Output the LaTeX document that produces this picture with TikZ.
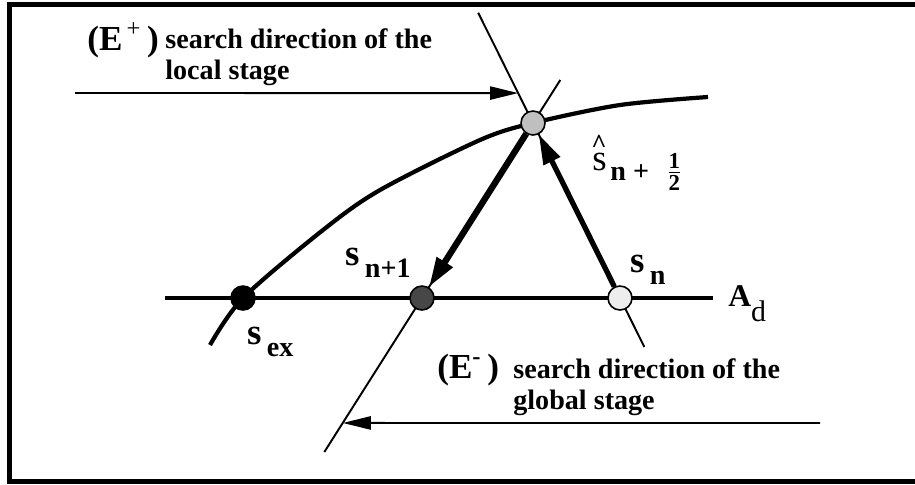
\documentclass[tikz,border=0pt]{standalone}
\usepackage{fontspec}
\setmainfont{Liberation Serif}
\usetikzlibrary{arrows.meta,calc}

\tikzset{
  pt/.style={circle,draw=black,line width=0.9pt,minimum size=0.48cm,inner sep=0pt},
  thinline/.style={line width=1.1pt},
  bigline/.style={line width=2.4pt},
  bigarrow/.style={line width=3.6pt,-{Triangle[length=17pt,width=10pt]}},
  leadarrow/.style={line width=1.1pt,-{Triangle[length=16pt,width=7.5pt]}},
  lab/.style={inner sep=0pt,anchor=base west,font=\bfseries},
  txt/.style={lab,align=left,font=\bfseries\fontsize{16}{17.5}\selectfont},
  big/.style={lab,font=\bfseries\fontsize{20}{22}\selectfont}
}
% main letter with a lowered subscript
\newcommand{\slabel}[2]{{\fontsize{21}{22}\selectfont #1}\hspace{3pt}%
  \raisebox{-7pt}{\fontsize{16}{18}\selectfont #2}}

\begin{document}
\begin{tikzpicture}[x=0.02cm,y=-0.02cm]
  \useasboundingbox (0,0) rectangle (915,484);
  % frame
  \draw[line width=2.8pt] (9.5,4.5) rectangle (922,481.5);

  % positions of the points
  \coordinate (psex) at (243,298);
  \coordinate (pnext) at (422,298);
  \coordinate (pn) at (620,298);
  \coordinate (phat) at (533,123);
  \coordinate (adl) at (165,298);
  \coordinate (adr) at (713,298);

  % A_d, the two directions and the curve
  \draw[bigline] (adl) -- (adr);
  \draw[thinline] ($(pn)!-0.28!(phat)$) -- ($(pn)!1.63!(phat)$);
  \draw[thinline] ($(pnext)!-0.88!(phat)$) -- ($(pnext)!1.246!(phat)$);
  \draw[bigline] plot[smooth] coordinates {(210,345) (psex) (323,230)
    (380,190) (480,140) (phat) (620,105) (708,97)};

  % the points
  \node[pt,fill=black] (sex) at (psex) {};
  \node[pt,fill=black!72] (snext) at (pnext) {};
  \node[pt,fill=black!25] (shat) at (phat) {};
  \node[pt,fill=black!7] (sn) at (pn) {};

  % steps
  \draw[bigarrow,line width=3pt] (sn) -- (shat);
  \draw[bigarrow] (shat) -- (snext);

  % pointers to the directions
  \coordinate (lstart) at (75,93);
  \coordinate (ltip) at ($(pn)!1.171!(phat)$);
  \coordinate (gstart) at (820,423);
  \coordinate (gtip) at ($(pnext)!-0.714!(phat)$);
  \draw[leadarrow] (lstart) -- (ltip);
  \draw[leadarrow] (gstart) -- (gtip);

  % texts
  \node[big] (eplus) at (87,50) {(E\textsuperscript{\mdseries\,+}\,)};
  \node[txt] (localtxt) at (165,79) {search direction of the\\local stage};
  \node[big] (eminus) at (437,378) {(E\textsuperscript{-}\,)};
  \node[txt] (globaltxt) at (513,409) {search direction of the\\global stage};

  % labels of the points
  \node[lab] (lsex) at (247,344) {\slabel{s}{ex}};
  \node[lab] (lsnext) at (345,265) {\slabel{s}{n+1}};
  \node[lab] (lsn) at (630,272) {\slabel{s}{n}};
  \node[lab] (lad) at (728,306) {{\fontsize{18}{20}\selectfont A}%
    \raisebox{-9pt}{\mdseries\fontsize{17}{20}\selectfont d}};
  \node[lab,font=\mdseries\fontsize{21}{22}\selectfont] (lhat) at (592,170)
    {\rlap{\hspace{-0.5pt}\raisebox{10pt}{\bfseries\fontsize{15}{15}\selectfont
    \textasciicircum}}s};
  \node[lab,font=\bfseries\fontsize{16}{18}\selectfont] (lhalf) at (610,180)
    {n +\hspace{10pt}${\hbox{\bfseries\fontsize{13}{14}\selectfont 1}\above 1pt
    \hbox{\bfseries\fontsize{13}{14}\selectfont 2}}$};
\end{tikzpicture}
\end{document}
